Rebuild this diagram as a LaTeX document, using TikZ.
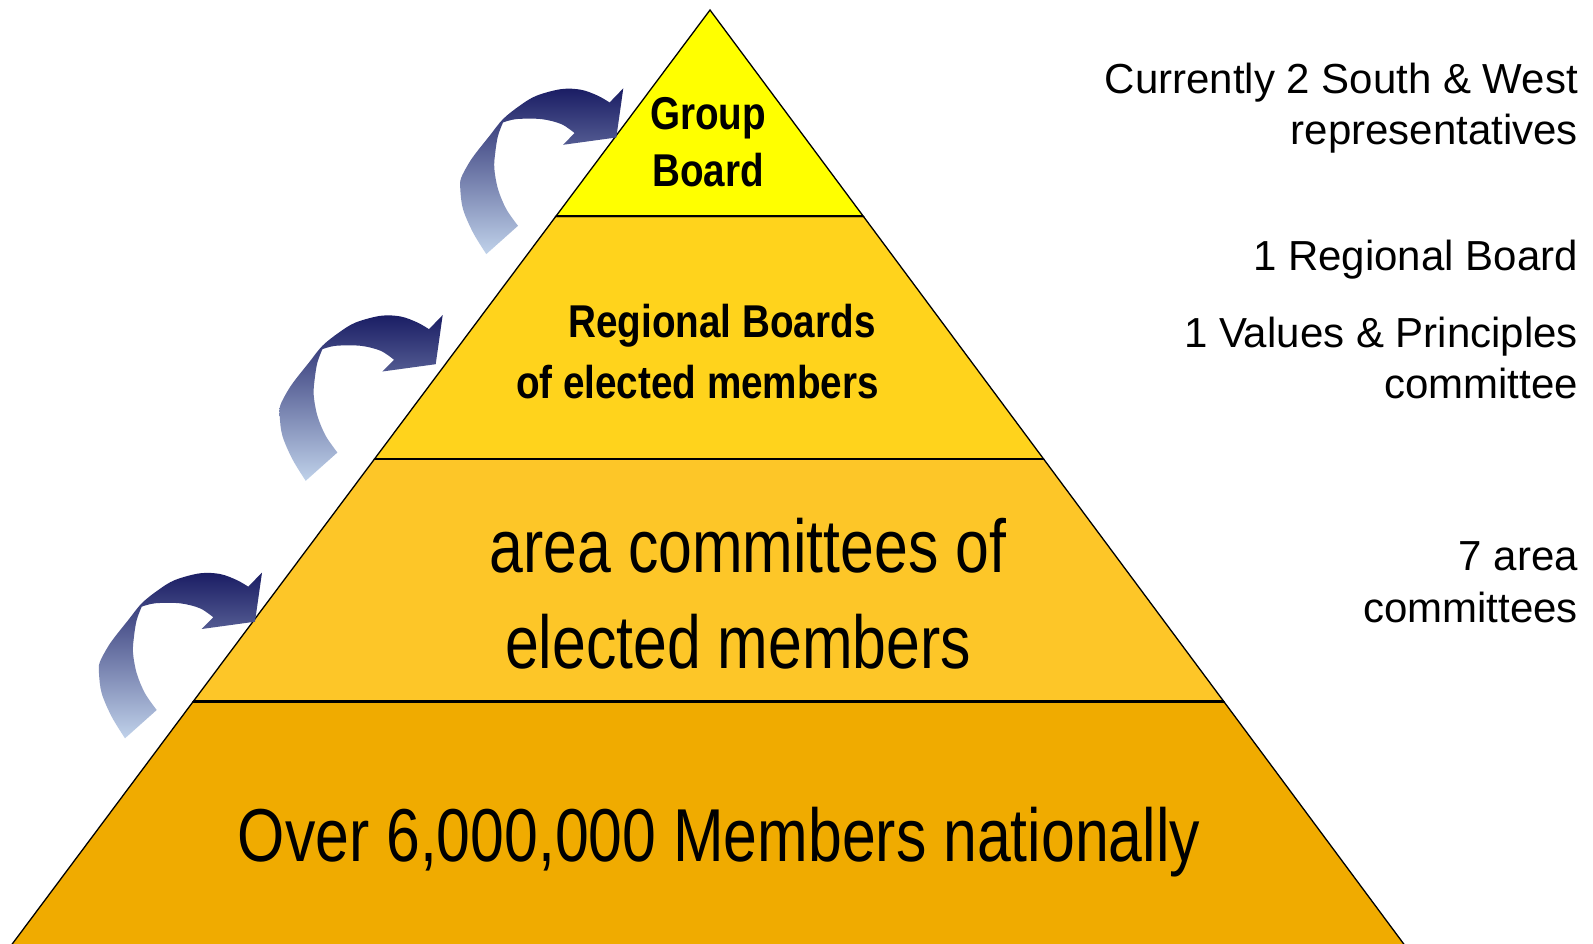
\documentclass[tikz,border=0pt]{standalone}
\usepackage{fontspec}
\setmainfont{Liberation Sans}
\newfontfamily\narrowfont[FakeStretch=0.81]{Liberation Sans}
\newfontfamily\narrowbold[FakeStretch=0.84]{Liberation Sans}
\definecolor{lvlA}{RGB}{255,255,0}
\definecolor{lvlB}{RGB}{255,211,28}
\definecolor{lvlC}{RGB}{253,198,40}
\definecolor{lvlD}{RGB}{240,171,0}
\definecolor{arrowtop}{RGB}{26,29,100}
\definecolor{arrowmid}{RGB}{112,124,168}
\definecolor{arrowbot}{RGB}{192,210,234}
\tikzset{
  band/.style={draw=black, line width=1.3pt, line join=miter},
  sepline/.style={draw=black, line width=2.2pt},
  boldlbl/.style={inner sep=0pt, anchor=base, font=\narrowbold\bfseries\fontsize{46}{52}\selectfont},
  biglbl/.style={inner sep=0pt, anchor=base, font=\narrowfont\fontsize{75}{90}\selectfont},
  sidelbl/.style={inner sep=0pt, anchor=base east, font=\fontsize{42}{51}\selectfont},
  upshade/.style={top color=arrowtop, middle color=arrowmid, bottom color=arrowbot},
}
\newcommand{\bentarrow}[1]{%
  \begin{scope}[shift={#1}]
  \shade[upshade]
    plot[smooth, tension=0.55] coordinates {(-137,165.8) (-150.3,144.2) (-160.3,120.8) (-163,100.8) (-162.3,90) (-154.5,75) (-147,64.2) (-133.7,47.5) (-120.3,30.8) (-103.7,17.5) (-87,7.5) (-62,0.8) (-42,1.5) (-25.3,7.5) (-13.7,14.2)}
    -- (0,0) -- (-7,49.2) -- (-60.3,56.5) -- (-48.7,44.8)
    -- plot[smooth, tension=0.55] coordinates {(-48.7,44.8) (-62,35.8) (-82,30.8) (-107,30.8) (-120.3,34.2)}
    -- plot[smooth, tension=0.55] coordinates {(-120.3,34.2) (-125.3,47.5) (-128,64) (-129,80) (-125.3,100.8) (-117,120.8) (-105.3,137.5)}
    -- cycle;
  \end{scope}}
\begin{document}
\begin{tikzpicture}[x=1pt, y=-1pt]
\useasboundingbox (0,0) rectangle (1593,944);
\fill[white] (0,0) rectangle (1593,944);

% pyramid bands
\path[band, fill=lvlD] (193.2,701.5) -- (1223.8,701.5) -- (1406,947) -- (10,947) -- cycle;
\path[band, fill=lvlC] (374.5,459) -- (1043.6,459) -- (1223.8,701.5) -- (193.2,701.5) -- cycle;
\path[band, fill=lvlB] (555.8,216.4) -- (863.4,216.4) -- (1043.6,459) -- (374.5,459) -- cycle;
\path[band, fill=lvlA] (710,10) -- (863.4,216.4) -- (555.8,216.4) -- cycle;
\draw[sepline] (555.8,216.4) -- (863.4,216.4);
\draw[sepline] (374.5,459) -- (1043.6,459);
\draw[sepline] (193.2,701.5) -- (1223.8,701.5);

% curved arrows
\bentarrow{(623.3,88.3)}
\bentarrow{(442.7,315)}
\bentarrow{(262,572.5)}

% labels inside the pyramid
\node[boldlbl] (group) at (708,130) {Group};
\node[boldlbl] (board) at (708,187) {Board};
\node[boldlbl] (regional) at (722,337) {Regional Boards};
\node[boldlbl] (electedA) at (697.5,398) {of elected members};
\node[biglbl] (area) at (748,572) {area committees of};
\node[biglbl] (electedB) at (738,668) {elected members};
\node[biglbl] (members) at (719,861) {Over 6,000,000 Members nationally};

% side notes
\node[sidelbl] (cur) at (1578,93.5) {Currently 2 South \& West};
\node[sidelbl] (rep) at (1578,144.3) {representatives};
\node[sidelbl] (regb) at (1578,270) {1 Regional Board};
\node[sidelbl] (vals) at (1578,347.5) {1 Values \& Principles};
\node[sidelbl] (comm) at (1578,398) {committee};
\node[sidelbl] (seven) at (1578,570) {7 area};
\node[sidelbl] (comms) at (1578,622) {committees};
\end{tikzpicture}
\end{document}
